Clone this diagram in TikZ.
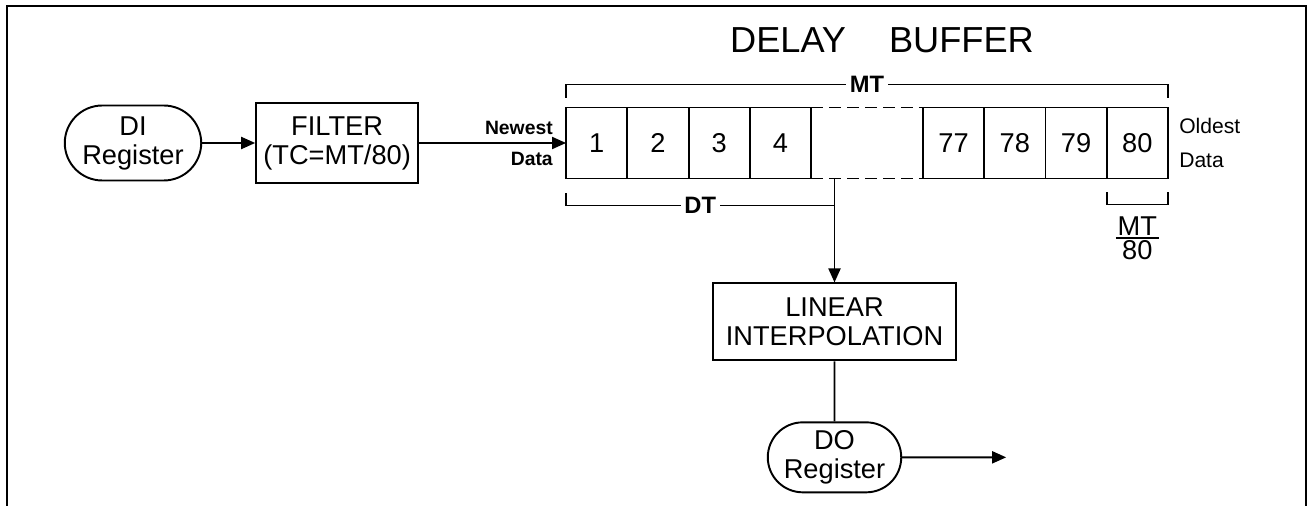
\documentclass[tikz,border=0pt]{standalone}
\usepackage{fontspec}
\setmainfont{Liberation Sans}
\usetikzlibrary{arrows.meta,positioning,shapes.misc}

\begin{document}
\begin{tikzpicture}[x=0.02cm, y=-0.02cm,
  node distance=10mm and 10mm,
  reg/.style={draw, rounded rectangle, align=center, minimum width=2.8cm,
              minimum height=1.5cm, inner sep=1pt, line width=1.1pt,
              font=\fontsize{15.5}{16.5}\selectfont},
  blk/.style={draw, align=center, inner sep=1pt, line width=1.1pt,
              font=\fontsize{15.5}{16.5}\selectfont},
  cell/.style={draw, minimum width=1.225cm, minimum height=1.42cm, outer sep=0pt,
               inner sep=0pt, line width=1.1pt, font=\fontsize{15.5}{16.5}\selectfont},
  lbl/.style={fill=white, inner sep=2pt, font=\bfseries\fontsize{13.5}{15}\selectfont},
  side/.style={inner sep=0pt, font=\fontsize{11}{17.6}\selectfont},
  brk/.style={line width=0.9pt},
  ln/.style={line width=1.1pt},
  ar/.style={line width=1.1pt, -{Triangle[length=2.8mm, width=2.4mm]}}]
\useasboundingbox (0,0) rectangle (1313,506);
\draw[line width=1.4pt] (7,506) -- (7,6) -- (1306,6) -- (1306,506);
\node[font=\fontsize{20.6}{24}\selectfont] (title) at (882,40) {DELAY\hspace{0.86cm}BUFFER};
\node[reg] (di) at (133,143) {DI\\Register};
\node[blk, minimum width=3.24cm, minimum height=1.6cm, right=1.06cm of di] (filter) {FILTER\\(TC=MT/80)};
% delay buffer cells
\node[cell, right=2.94cm of filter] (c1) {1};
\node[cell, right=0pt of c1] (c2) {2};
\node[cell, right=0pt of c2] (c3) {3};
\node[cell, right=0pt of c3] (c4) {4};
\node[cell, draw=none, minimum width=2.24cm, right=0pt of c4] (gap) {};
\node[cell, right=0pt of gap] (c77) {77};
\node[cell, right=0pt of c77] (c78) {78};
\node[cell, right=0pt of c78] (c79) {79};
\node[cell, right=0pt of c79] (c80) {80};
\draw[ln, dash pattern=on 2.4mm off 1.2mm] (c4.north east) -- (c77.north west);
\draw[ln, dash pattern=on 2.4mm off 1.2mm] (c4.south east) -- (c77.south west);
\node[side, font=\bfseries\fontsize{11}{17.6}\selectfont, align=right,
      left=0.26cm of c1] (newest) {Newest\\Data};
\node[side, font=\fontsize{12}{19.3}\selectfont, align=left,
      right=0.22cm of c80] (oldest) {Oldest\\Data};
\node[blk, minimum width=4.86cm, minimum height=1.54cm, below=2.08cm of gap, xshift=-0.65cm] (lin) {LINEAR\\INTERPOLATION};
\node[reg, minimum width=2.74cm, minimum height=1.4cm, below=1.2cm of lin] (do) {DO\\Register};
\coordinate[right=2.08cm of do] (out);
% brackets
\coordinate (mtl) at ([yshift=0.46cm]c1.north west);
\coordinate (mtr) at ([yshift=0.46cm]c80.north east);
\draw[brk] ([yshift=-0.26cm]mtl) -- (mtl) -- node[lbl] {MT} (mtr) -- ([yshift=-0.26cm]mtr);
\coordinate (dt) at ([yshift=-0.54cm]c1.south west);
\draw[brk] ([yshift=0.24cm]dt) -- (dt) -- node[lbl] {DT} (dt -| lin.north);
\coordinate (ul) at ([yshift=-0.52cm]c80.south west);
\coordinate (ur) at ([yshift=-0.52cm]c80.south east);
\coordinate (um) at ([yshift=-0.52cm]c80.south);
\draw[brk] ([yshift=0.24cm]ul) -- (ul) -- (ur) -- ([yshift=0.24cm]ur);
\node[inner sep=0pt, below=0.2cm of um, font=\fontsize{15.5}{16.5}\selectfont] (unit)
  {\setlength{\arrayrulewidth}{1.1pt}\setlength{\tabcolsep}{1pt}\begin{tabular}{c}MT\\[-4pt]\hline\rule{0pt}{12pt}80\end{tabular}};
% connectors
\draw[ar] (di) -- (filter);
\draw[ar] (filter) -- (c1);
\draw[ar] (gap.south -| lin.north) -- (lin.north);
\draw[ln] (lin) -- (do);
\draw[ar] (do) -- (out);
\end{tikzpicture}
\end{document}
